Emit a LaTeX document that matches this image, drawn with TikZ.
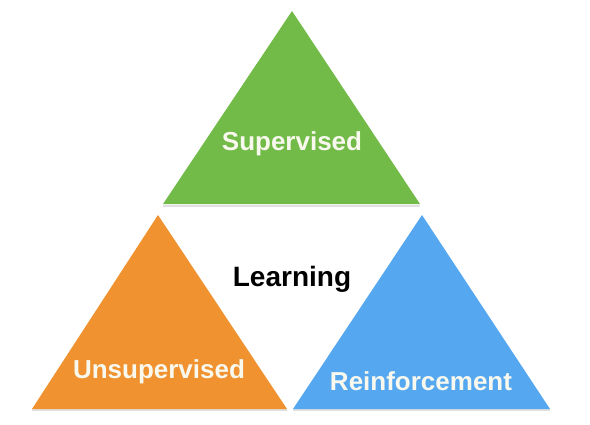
\documentclass[tikz,border=0pt]{standalone}
\usepackage{fontspec}
\setmainfont{Liberation Sans}
\definecolor{tgreen}{HTML}{72BB48}
\definecolor{torange}{HTML}{F0922F}
\definecolor{tblue}{HTML}{55A8F0}
\definecolor{tlabel}{HTML}{F8F8EE}
\begin{document}
\begin{tikzpicture}[x=1pt,y=-1pt,
  tri/.style={draw=none},
  tlab/.style={font=\fontsize{26}{30}\selectfont\bfseries, text=tlabel, inner sep=0pt},
  clab/.style={font=\fontsize{28}{30}\selectfont\bfseries, text=black, inner sep=0pt}]
\useasboundingbox (0,0) rectangle (590,424);
% shadows
\fill[black!12] (163,205) -- (420,205) -- (420,207) -- (163,207) -- cycle;
\fill[black!12] (32,409) -- (287,409) -- (287,411) -- (32,411) -- cycle;
\fill[black!12] (293,409) -- (550,409) -- (550,411) -- (293,411) -- cycle;
% triangles
\fill[tgreen, tri] (292,11) -- (420,204) -- (163,204) -- cycle;
\fill[torange, tri] (158,215) -- (287,409) -- (32,409) -- cycle;
\fill[tblue, tri] (422,215) -- (550,409) -- (293,409) -- cycle;
% labels
\node[tlab] (sup) at (292,144) {Supervised};
\node[tlab] (uns) at (159,372) {Unsupervised};
\node[tlab] (rei) at (421,381) {Reinforcement};
\node[clab] (lea) at (292,279) {Learning};
\end{tikzpicture}
\end{document}
